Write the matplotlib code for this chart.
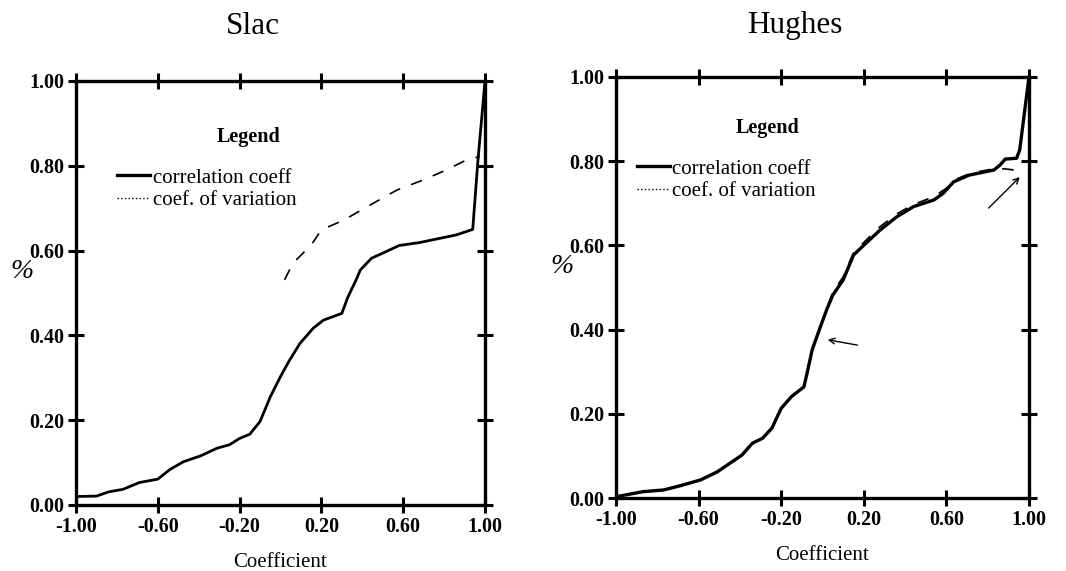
import matplotlib.pyplot as plt
from matplotlib.lines import Line2D

plt.rcParams['font.family'] = ['Liberation Serif', 'DejaVu Serif']

# Slac panel
slac_corr_x = [-1.00, -0.90, -0.84, -0.77, -0.69, -0.60, -0.54, -0.475, -0.39, -0.31, -0.25,
               -0.20, -0.15, -0.10, -0.05, 0.00, 0.04, 0.095, 0.16, 0.21, 0.30, 0.33, 0.37,
               0.39, 0.445, 0.50, 0.58, 0.68, 0.78, 0.86, 0.94, 0.965, 1.00]
slac_corr_y = [0.020, 0.021, 0.031, 0.037, 0.053, 0.061, 0.084, 0.102, 0.116, 0.134, 0.142,
               0.157, 0.167, 0.197, 0.255, 0.303, 0.338, 0.381, 0.417, 0.436, 0.452, 0.491, 0.531,
               0.554, 0.582, 0.594, 0.612, 0.619, 0.629, 0.637, 0.650, 0.810, 1.00]
slac_cv_x = [0.02, 0.06, 0.15, 0.20, 0.31, 0.44, 0.57, 0.70, 0.81, 0.91, 0.975]
slac_cv_y = [0.531, 0.570, 0.613, 0.649, 0.672, 0.708, 0.743, 0.767, 0.790, 0.814, 0.822]

# Hughes panel
hug_corr_x = [-1.00, -0.87, -0.77, -0.69, -0.59, -0.51, -0.45, -0.39, -0.34, -0.29, -0.245,
              -0.20, -0.15, -0.09, -0.075, -0.05, -0.01, 0.02, 0.05, 0.10, 0.15, 0.21, 0.28,
              0.36, 0.44, 0.54, 0.585, 0.635, 0.71, 0.83, 0.86, 0.885, 0.94, 0.955, 1.00]
hug_corr_y = [0.003, 0.015, 0.019, 0.029, 0.043, 0.062, 0.082, 0.102, 0.130, 0.142, 0.166,
              0.213, 0.241, 0.264, 0.296, 0.352, 0.407, 0.447, 0.482, 0.518, 0.577, 0.605, 0.637,
              0.668, 0.692, 0.708, 0.724, 0.751, 0.767, 0.779, 0.791, 0.805, 0.807, 0.827, 1.00]
hug_cv_x = [-0.05, 0.00, 0.05, 0.10, 0.15, 0.21, 0.28, 0.36, 0.44, 0.54, 0.60, 0.65, 0.72, 0.83, 0.88, 0.93]
hug_cv_y = [0.355, 0.420, 0.490, 0.525, 0.582, 0.612, 0.645, 0.675, 0.697, 0.716, 0.736, 0.758, 0.772, 0.782, 0.782, 0.779]

xticks = [-1.0, -0.6, -0.2, 0.2, 0.6, 1.0]
xtick_labels = ['-1.00', '-0.60', '-0.20', '0.20', '0.60', '1.00']
yticks = [0.0, 0.2, 0.4, 0.6, 0.8, 1.0]
ytick_labels = ['0.00', '0.20', '0.40', '0.60', '0.80', '1.00']

fig = plt.figure(figsize=(10.66, 5.71), dpi=100)
ax1 = fig.add_axes([76 / 1066, 1 - 505 / 571, 409 / 1066, 424 / 571])
ax2 = fig.add_axes([616 / 1066, 1 - 498 / 571, 413 / 1066, 421 / 571])


def style_axes(ax):
    ax.set_xlim(-1.0, 1.0)
    ax.set_ylim(0.0, 1.0)
    ax.set_xticks(xticks)
    ax.set_xticklabels(xtick_labels, fontweight='bold', fontsize=14.5)
    ax.set_yticks(yticks)
    ax.set_yticklabels(ytick_labels, fontweight='bold', fontsize=14.5)
    ax.tick_params(direction='inout', length=11, width=2.2, top=True, right=True,
                   color='black', pad=3)
    for s in ax.spines.values():
        s.set_linewidth(2.4)
    ax.set_xlabel('Coefficient', fontsize=15, labelpad=12)
    ax.set_ylabel('%', fontsize=20, rotation=0, style='italic', va='center', ha='center')
    ax.yaxis.set_label_coords(-0.132, 0.55)


style_axes(ax1)
style_axes(ax2)

ax1.plot(slac_corr_x, slac_corr_y, color='black', lw=2.0)
ax1.plot(slac_cv_x, slac_cv_y, color='black', lw=1.2, dashes=(7, 7))

ax2.plot(hug_corr_x, hug_corr_y, color='black', lw=2.4)
ax2.plot(hug_cv_x, hug_cv_y, color='black', lw=1.2, dashes=(7, 7))

handles = [Line2D([], [], color='black', lw=2.4),
           Line2D([], [], color='black', lw=1.0, ls=':')]
labels = ['correlation coeff', 'coef. of variation']

ax1.text(0.423, 0.868, 'Legend', transform=ax1.transAxes, ha='center', va='center',
         fontsize=14.5, fontweight='bold')
ax1.legend(handles, labels, loc='upper left', bbox_to_anchor=(0.10, 0.795), frameon=False,
           fontsize=15, handlelength=1.6, handletextpad=0.15, labelspacing=0.15,
           borderpad=0, borderaxespad=0)

ax2.text(0.368, 0.879, 'Legend', transform=ax2.transAxes, ha='center', va='center',
         fontsize=14.5, fontweight='bold')
ax2.legend(handles, labels, loc='upper left', bbox_to_anchor=(0.05, 0.805), frameon=False,
           fontsize=15, handlelength=1.6, handletextpad=0.1, labelspacing=0.15,
           borderpad=0, borderaxespad=0)

# arrows pointing at the curves
ax2.annotate('', xy=(0.012, 0.377), xytext=(0.182, 0.362),
             arrowprops=dict(arrowstyle='->', color='black', lw=1.0))
ax2.annotate('', xy=(0.965, 0.767), xytext=(0.795, 0.684),
             arrowprops=dict(arrowstyle='->', color='black', lw=1.0))

fig.text(253 / 1066, 1 - 27 / 571, 'Slac', ha='center', va='center', fontsize=22.5)
fig.text(795 / 1066, 1 - 26 / 571, 'Hughes', ha='center', va='center', fontsize=22.5)

fig.savefig('out.png', dpi=100)
